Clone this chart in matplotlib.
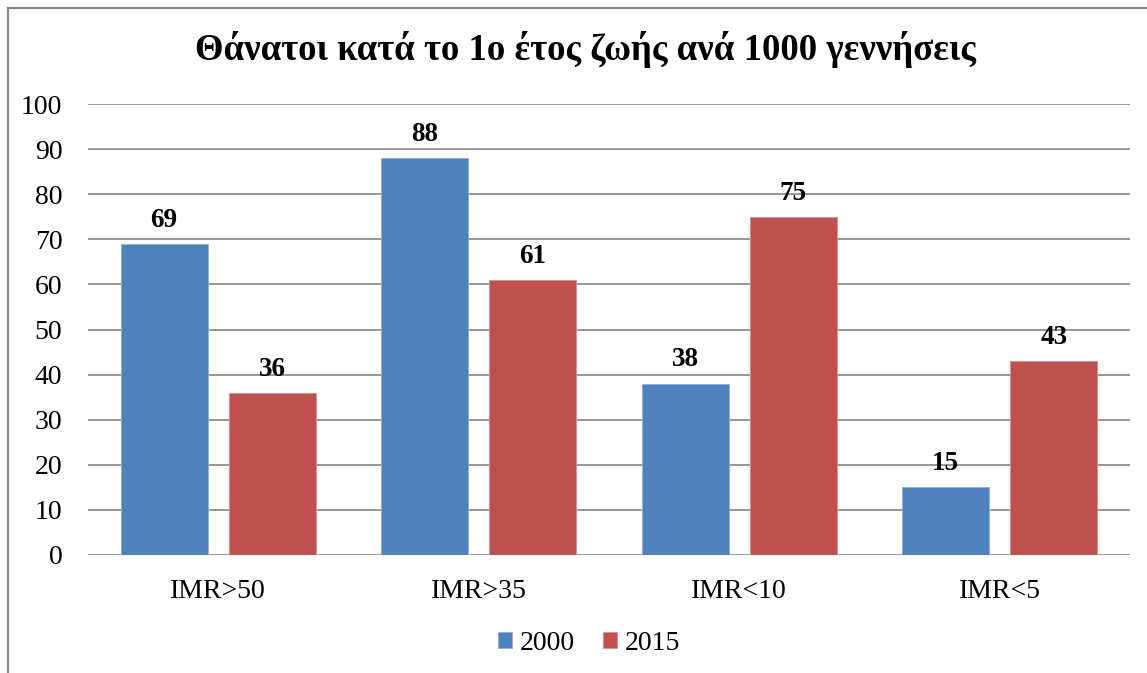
import matplotlib.pyplot as plt
import numpy as np
from matplotlib.patches import Rectangle

categories = ["IMR>50", "IMR>35", "IMR<10", "IMR<5"]
values_2000 = [69, 88, 38, 15]
values_2015 = [36, 61, 75, 43]
series_names = ["2000", "2015"]

plt.rcParams["font.family"] = ["Liberation Serif", "DejaVu Serif"]

fig = plt.figure(figsize=(11.47, 6.73), dpi=100)
ax = fig.add_axes([88 / 1147, 1 - 555 / 673, (1130 - 88) / 1147, (555 - 104) / 673])

x = np.arange(len(categories))
w = 0.334
off = 0.208
b1 = ax.bar(x - off, values_2000, w, color="#4F81BD", edgecolor="#8DB0DA", linewidth=0.6,
            label=series_names[0], zorder=3)
b2 = ax.bar(x + off, values_2015, w, color="#C0504D", edgecolor="#DA8F8D", linewidth=0.6,
            label=series_names[1], zorder=3)

for bars in (b1, b2):
    for r in bars:
        ax.text(r.get_x() + r.get_width() / 2, r.get_height() + 3.8, "%d" % r.get_height(),
                ha="center", va="baseline", fontsize=19.5, fontweight="bold")

ax.set_xlim(-0.5, 3.5)
ax.set_ylim(0, 100)
ax.set_yticks(range(0, 101, 10))
ax.set_xticks(x)
ax.set_xticklabels(categories)
ax.tick_params(axis="both", length=0, labelsize=20)
ax.tick_params(axis="x", pad=17)
ax.tick_params(axis="y", pad=18.5)
ax.grid(axis="y", color="#868686", linewidth=1.2, zorder=0)
for s in ax.spines.values():
    s.set_visible(False)

fig.text(585 / 1147, 1 - 50 / 673, "Θάνατοι κατά το 1ο έτος ζωής ανά 1000 γεννήσεις",
         ha="center", va="center", fontsize=26.5, fontweight="bold")

fig.legend(loc="center", bbox_to_anchor=(589 / 1147, 1 - 643 / 673), ncol=2, frameon=False,
           fontsize=20, handlelength=0.5, handleheight=0.5, handletextpad=0.3, columnspacing=1.0)

# outer chart border
fig.patches.append(Rectangle((8 / 1147, -0.05), 1.1, 1 - 8 / 673 + 0.05, transform=fig.transFigure,
                             fill=False, edgecolor="#868686", linewidth=1.5))

fig.savefig("out.png", dpi=100)
